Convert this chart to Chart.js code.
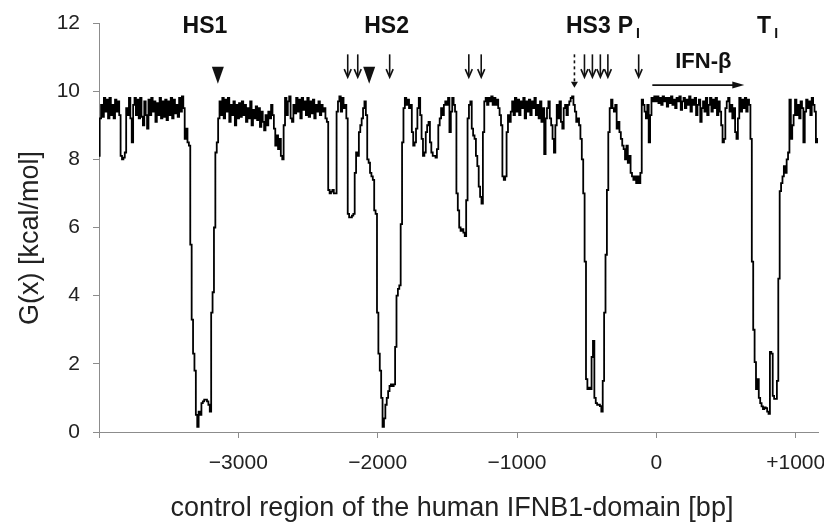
<!DOCTYPE html>
<html>
<head>
<meta charset="utf-8">
<script src="https://cdn.jsdelivr.net/npm/chart.js@4.4.1/dist/chart.umd.min.js"></script>
<style>
  html, body { margin: 0; padding: 0; background: #fff; }
  canvas { display: block; }
</style>
</head>
<body>
<canvas id="grafico" width="824" height="531"></canvas>
<script>
// posicion en el dominio IFNB1 (bp) y energia libre G(x)
const posicionBp = [
  -4000,-3990,-3980,-3970,-3960,-3950,-3940,-3930,-3920,-3910,
  -3900,-3890,-3880,-3870,-3860,-3850,-3840,-3830,-3820,-3810,
  -3800,-3790,-3780,-3770,-3760,-3750,-3740,-3730,-3720,-3710,
  -3700,-3690,-3680,-3670,-3660,-3650,-3640,-3630,-3620,-3610,
  -3600,-3590,-3580,-3570,-3560,-3550,-3540,-3530,-3520,-3510,
  -3500,-3490,-3480,-3470,-3460,-3450,-3440,-3430,-3420,-3410,
  -3400,-3390,-3380,-3370,-3360,-3350,-3340,-3330,-3320,-3310,
  -3300,-3290,-3280,-3270,-3260,-3250,-3240,-3230,-3220,-3210,
  -3200,-3190,-3180,-3170,-3160,-3150,-3140,-3130,-3120,-3110,
  -3100,-3090,-3080,-3070,-3060,-3050,-3040,-3030,-3020,-3010,
  -3000,-2990,-2980,-2970,-2960,-2950,-2940,-2930,-2920,-2910,
  -2900,-2890,-2880,-2870,-2860,-2850,-2840,-2830,-2820,-2810,
  -2800,-2790,-2780,-2770,-2760,-2750,-2740,-2730,-2720,-2710,
  -2700,-2690,-2680,-2670,-2660,-2650,-2640,-2630,-2620,-2610,
  -2600,-2590,-2580,-2570,-2560,-2550,-2540,-2530,-2520,-2510,
  -2500,-2490,-2480,-2470,-2460,-2450,-2440,-2430,-2420,-2410,
  -2400,-2390,-2380,-2370,-2360,-2350,-2340,-2330,-2320,-2310,
  -2300,-2290,-2280,-2270,-2260,-2250,-2240,-2230,-2220,-2210,
  -2200,-2190,-2180,-2170,-2160,-2150,-2140,-2130,-2120,-2110,
  -2100,-2090,-2080,-2070,-2060,-2050,-2040,-2030,-2020,-2010,
  -2000,-1990,-1980,-1970,-1960,-1950,-1940,-1930,-1920,-1910,
  -1900,-1890,-1880,-1870,-1860,-1850,-1840,-1830,-1820,-1810,
  -1800,-1790,-1780,-1770,-1760,-1750,-1740,-1730,-1720,-1710,
  -1700,-1690,-1680,-1670,-1660,-1650,-1640,-1630,-1620,-1610,
  -1600,-1590,-1580,-1570,-1560,-1550,-1540,-1530,-1520,-1510,
  -1500,-1490,-1480,-1470,-1460,-1450,-1440,-1430,-1420,-1410,
  -1400,-1390,-1380,-1370,-1360,-1350,-1340,-1330,-1320,-1310,
  -1300,-1290,-1280,-1270,-1260,-1250,-1240,-1230,-1220,-1210,
  -1200,-1190,-1180,-1170,-1160,-1150,-1140,-1130,-1120,-1110,
  -1100,-1090,-1080,-1070,-1060,-1050,-1040,-1030,-1020,-1010,
  -1000,-990,-980,-970,-960,-950,-940,-930,-920,-910,
  -900,-890,-880,-870,-860,-850,-840,-830,-820,-810,
  -800,-790,-780,-770,-760,-750,-740,-730,-720,-710,
  -700,-690,-680,-670,-660,-650,-640,-630,-620,-610,
  -600,-590,-580,-570,-560,-550,-540,-530,-520,-510,
  -500,-490,-480,-470,-460,-450,-440,-430,-420,-410,
  -400,-390,-380,-370,-360,-350,-340,-330,-320,-310,
  -300,-290,-280,-270,-260,-250,-240,-230,-220,-210,
  -200,-190,-180,-170,-160,-150,-140,-130,-120,-110,
  -100,-90,-80,-70,-60,-50,-40,-30,-20,-10,
  0,10,20,30,40,50,60,70,80,90,
  100,110,120,130,140,150,160,170,180,190,
  200,210,220,230,240,250,260,270,280,290,
  300,310,320,330,340,350,360,370,380,390,
  400,410,420,430,440,450,460,470,480,490,
  500,510,520,530,540,550,560,570,580,590,
  600,610,620,630,640,650,660,670,680,690,
  700,710,720,730,740,750,760,770,780,790,
  800,810,820,830,840,850,860,870,880,890,
  900,910,920,930,940,950,960,970,980,990,
  1000,1010,1020,1030,1040,1050,1060,1070,1080,1090,
  1100,1110,1120,1130,1140,1150,1160
];
const energiaG = [
  8.1, 9.2, 9.6, 9.25, 9.8, 9.4, 9.75, 9.2, 9.8, 9.3,
  9.6, 9.2, 9.75, 9.4, 9.7, 9.3, 8.1, 8.0, 8.05, 8.2,
  9.5, 9.3, 9.8, 9.2, 8.5, 9.6, 9.8, 9.3, 9.75, 9.2,
  9.8, 9.25, 9.0, 9.7, 9.3, 8.9, 9.75, 9.3, 9.8, 9.4,
  9.7, 9.1, 9.65, 9.3, 9.8, 9.2, 9.7, 9.25, 9.75, 9.15,
  9.7, 9.3, 9.8, 9.2, 9.75, 9.35, 9.6, 9.25, 9.8, 9.4,
  9.85, 9.5, 8.6, 8.9, 8.5, 8.4, 5.5, 3.3, 2.3, 1.8,
  0.5, 0.15, 0.6, 0.5, 0.85, 0.9, 0.95, 0.95, 0.9, 0.8,
  0.6, 3.5, 4.1, 6.0, 8.2, 8.5, 9.2, 9.7, 9.3, 9.8,
  9.2, 9.75, 9.4, 9.8, 9.1, 9.6, 9.3, 9.7, 9.0, 9.6,
  9.2, 9.65, 9.25, 9.7, 9.3, 9.6, 9.1, 9.5, 9.2, 9.7,
  9.0, 9.45, 9.2, 9.55, 9.15, 9.5, 8.95, 9.4, 9.1, 8.85,
  9.3, 9.0, 9.4, 9.2, 9.6, 9.3, 8.9, 8.4, 8.7, 8.3,
  8.6, 8.1, 8.0, 9.0, 9.8, 9.3, 9.7, 9.85, 9.2, 9.1,
  9.6, 9.35, 9.8, 9.4, 9.75, 9.2, 9.8, 9.45, 9.7, 9.3,
  9.8, 9.25, 9.7, 9.35, 9.75, 9.2, 9.6, 9.4, 9.7, 9.3,
  9.6, 9.4, 9.5, 9.2, 9.1, 7.1, 7.0, 7.05, 7.1, 7.0,
  7.0, 9.4, 9.7, 9.85, 9.4, 9.8, 9.5, 9.6, 9.2, 6.4,
  6.3, 6.3, 6.35, 6.4, 7.6, 8.2, 8.1, 8.8, 9.0, 9.2,
  9.5, 9.7, 9.3, 8.0, 7.9, 7.6, 7.5, 7.4, 6.5, 6.4,
  3.5, 2.3, 1.8, 1.0, 0.15, 0.4, 0.8, 1.0, 1.2, 1.35,
  1.4, 1.35, 1.4, 2.5, 4.0, 4.2, 4.3, 6.1, 8.5, 9.5,
  9.8, 9.6, 9.75, 9.5, 9.6, 8.8, 8.4, 8.5, 8.9, 9.5,
  9.8, 9.3, 8.6, 8.1, 8.2, 8.8, 9.0, 9.1, 8.5, 8.2,
  8.1, 8.1, 8.05, 8.3, 9.0, 9.2, 9.5, 9.3, 9.6, 9.7,
  9.6, 9.8, 8.8, 9.4, 9.8, 9.6, 9.4, 7.0, 6.5, 6.0,
  5.9, 5.95, 5.85, 5.75, 6.8, 9.2, 9.6, 9.7, 8.9, 8.7,
  8.6, 8.1, 7.8, 7.2, 6.9, 6.7, 8.8, 9.7, 9.8, 9.6,
  9.8, 9.7, 9.85, 9.6, 9.8, 9.6, 9.75, 9.5, 9.3, 9.0,
  7.5, 7.4, 7.5, 8.8, 9.3, 9.1, 9.4, 9.7, 9.3, 9.8,
  9.4, 9.75, 9.3, 9.7, 9.5, 9.8, 9.2, 9.7, 9.4, 9.75,
  9.3, 9.7, 9.5, 9.8, 9.3, 9.6, 9.2, 9.7, 9.1, 9.5,
  8.15, 9.2, 9.5, 9.7, 9.2, 9.0, 8.6, 8.2, 9.0, 9.6,
  9.2, 9.7, 9.1, 8.9, 9.5, 9.6, 9.3, 9.6, 9.7, 9.8,
  9.85, 9.6, 9.4, 9.1, 9.2, 9.0, 8.6, 8.0, 7.0, 5.0,
  1.55, 1.26, 1.3, 1.26, 2.2, 2.67, 1.0, 0.85, 0.8, 0.8,
  0.76, 0.6, 1.5, 3.5, 5.2, 7.1, 8.8, 9.5, 9.75, 9.5,
  9.4, 9.6, 8.9, 9.1, 8.8, 8.6, 8.4, 8.3, 8.0, 8.4,
  7.9, 8.1, 7.6, 7.5, 7.4, 7.5, 7.3, 7.5, 7.3, 7.6,
  9.75, 9.6, 9.4, 9.2, 9.6, 8.5, 9.3, 9.8, 9.7, 9.85,
  9.7, 9.85, 9.65, 9.8, 9.6, 9.85, 9.7, 9.8, 9.55, 9.8,
  9.65, 9.85, 9.6, 9.75, 9.5, 9.8, 9.7, 9.85, 9.45, 9.7,
  9.8, 9.5, 9.75, 9.6, 9.85, 9.4, 9.75, 9.6, 9.8, 9.3,
  9.6, 9.75, 9.1, 9.5, 9.7, 9.4, 9.8, 9.3, 9.6, 9.8,
  9.4, 9.75, 9.5, 9.8, 9.3, 9.7, 9.4, 9.0, 8.5, 8.6,
  9.5, 9.7, 9.8, 9.4, 9.6, 9.2, 9.5, 8.8, 8.6, 9.2,
  9.8, 9.4, 9.75, 9.5, 9.8, 9.4, 9.75, 9.6, 8.6, 5.0,
  3.0, 2.05, 1.26, 1.55, 1.0, 0.85, 0.75, 0.67, 0.72, 0.7,
  0.6, 0.53, 2.35, 2.3, 1.06, 0.97, 0.97, 1.5, 4.5, 7.07,
  7.3, 7.5, 7.8, 7.6, 8.0, 8.2, 9.75, 8.6, 9.0, 9.3,
  9.75, 9.3, 9.6, 9.2, 9.7, 9.5, 8.5, 9.4, 9.75, 9.5,
  9.7, 9.3, 9.8, 9.6, 9.4, 8.5, 8.6
];

// ejes
const xTicks = [-4000, -3000, -2000, -1000, 0, 1000];
const xTickLabels = ['', '\u22123000', '\u22122000', '\u22121000', '0', '+1000'];
const tituloX = 'control region of the human IFNB1-domain [bp]';
const tituloY = 'G(x) [kcal/mol]';

// anotaciones (bp, kcal/mol)
const sitiosHS = ['HS1', 'HS2', 'HS3'];
const sitiosHSPos = [-3240, -1936, -488];
const flechasPos = [-2215, -2143, -1914, -1346, -1257, -516, -459, -402, -348, -127];
const triangulosPos = [-3147, -2061];
const flechaPunteadaPos = -588;
const promotorPos = -201;   // P_I
const terminadorPos = 795;  // T_I
const genInicio = -29;
const genFin = 631;

const FUENTE = '"Liberation Sans", Arial, Helvetica, sans-serif';

const anotaciones = {
  id: 'anotaciones',
  afterDatasetsDraw(chart) {
    const { ctx, scales: { x, y } } = chart;
    ctx.save();
    ctx.fillStyle = '#111';
    ctx.strokeStyle = '#111';
    ctx.textAlign = 'center';
    ctx.textBaseline = 'middle';

    // HS1, HS2, HS3
    ctx.font = 'bold 23px ' + FUENTE;
    const yTexto = y.getPixelForValue(11.9);
    sitiosHS.forEach((t, i) => ctx.fillText(t, x.getPixelForValue(sitiosHSPos[i]), yTexto));

    // P_I y T_I con subindice
    function conSubindice(letra, pos) {
      const px = x.getPixelForValue(pos);
      ctx.font = 'bold 23px ' + FUENTE;
      const w = ctx.measureText(letra).width;
      ctx.textAlign = 'left';
      ctx.fillText(letra, px - w / 2 - 3, yTexto);
      ctx.font = 'bold 14px ' + FUENTE;
      ctx.fillText('I', px + w / 2, yTexto + 8);
      ctx.textAlign = 'center';
    }
    conSubindice('P', promotorPos);
    conSubindice('T', terminadorPos);

    // flechas pequeñas
    const yArr0 = y.getPixelForValue(11.08);
    const yArr1 = y.getPixelForValue(10.41);
    ctx.lineWidth = 1.6;
    flechasPos.forEach(p => {
      const px = x.getPixelForValue(p);
      ctx.beginPath();
      ctx.moveTo(px, yArr0);
      ctx.lineTo(px, yArr1 - 2);
      ctx.stroke();
      ctx.beginPath();
      ctx.moveTo(px - 3.5, yArr1 - 8);
      ctx.lineTo(px, yArr1);
      ctx.lineTo(px + 3.5, yArr1 - 8);
      ctx.stroke();
    });

    // triangulos
    const yTri0 = y.getPixelForValue(10.72);
    const yTri1 = y.getPixelForValue(10.22);
    triangulosPos.forEach(p => {
      const px = x.getPixelForValue(p);
      ctx.beginPath();
      ctx.moveTo(px - 6, yTri0);
      ctx.lineTo(px + 6, yTri0);
      ctx.lineTo(px, yTri1);
      ctx.closePath();
      ctx.fill();
    });

    // flecha punteada (HS3)
    const pxD = x.getPixelForValue(flechaPunteadaPos);
    const yD1 = y.getPixelForValue(10.1);
    ctx.setLineDash([3, 3]);
    ctx.beginPath();
    ctx.moveTo(pxD, yArr0);
    ctx.lineTo(pxD, yD1 - 5);
    ctx.stroke();
    ctx.setLineDash([]);
    ctx.beginPath();
    ctx.moveTo(pxD - 3.5, yD1 - 6);
    ctx.lineTo(pxD + 3.5, yD1 - 6);
    ctx.lineTo(pxD, yD1);
    ctx.closePath();
    ctx.fill();

    // IFN-beta con flecha horizontal
    const g0 = x.getPixelForValue(genInicio);
    const g1 = x.getPixelForValue(genFin);
    const yG = y.getPixelForValue(10.18);
    ctx.font = 'bold 22px ' + FUENTE;
    ctx.fillText('IFN-\u03B2', (g0 + g1) / 2 + 5, y.getPixelForValue(10.85));
    ctx.lineWidth = 1.8;
    ctx.beginPath();
    ctx.moveTo(g0, yG);
    ctx.lineTo(g1 - 10, yG);
    ctx.stroke();
    ctx.beginPath();
    ctx.moveTo(g1, yG);
    ctx.lineTo(g1 - 12, yG - 3.5);
    ctx.lineTo(g1 - 12, yG + 3.5);
    ctx.closePath();
    ctx.fill();

    // titulos de los ejes
    ctx.fillStyle = '#222';
    ctx.font = '27px ' + FUENTE;
    ctx.fillText(tituloX, 452, 509);
    ctx.translate(31, 238);
    ctx.rotate(-Math.PI / 2);
    ctx.fillText(tituloY, 0, 0);

    ctx.restore();
  }
};

new Chart(document.getElementById('grafico'), {
  type: 'line',
  data: {
    datasets: [{
      label: 'G(x)',
      data: posicionBp.map((p, i) => ({ x: p, y: energiaG[i] })),
      borderColor: '#000',
      borderWidth: 1.8,
      pointRadius: 0,
      stepped: 'middle',
      fill: false
    }]
  },
  options: {
    responsive: false,
    animation: false,
    devicePixelRatio: 1,
    layout: { padding: { top: 23, right: 6, left: 0, bottom: 0 } },
    plugins: { legend: { display: false }, tooltip: { enabled: false } },
    scales: {
      x: {
        type: 'linear',
        min: -4000,
        max: 1160,
        afterBuildTicks: s => { s.ticks = xTicks.map(v => ({ value: v })); },
        afterFit: s => { s.height = 99; s.paddingLeft = 0; s.paddingRight = 0; },
        ticks: {
          callback: (v, i) => xTickLabels[i],
          color: '#222',
          font: { family: FUENTE, size: 21 },
          padding: 13,
          maxRotation: 0,
          autoSkip: false
        },
        grid: { drawOnChartArea: false, drawTicks: true, tickLength: 6, color: '#8c8c8c' },
        border: { color: '#8c8c8c', width: 1 }
      },
      y: {
        min: 0,
        max: 12,
        afterFit: s => { s.width = 99; s.paddingTop = 0; s.paddingBottom = 0; },
        ticks: {
          stepSize: 2,
          color: '#222',
          font: { family: FUENTE, size: 21 },
          padding: 13
        },
        grid: { drawOnChartArea: false, drawTicks: true, tickLength: 6, color: '#8c8c8c' },
        border: { color: '#8c8c8c', width: 1 }
      }
    }
  },
  plugins: [anotaciones]
});
</script>
</body>
</html>
